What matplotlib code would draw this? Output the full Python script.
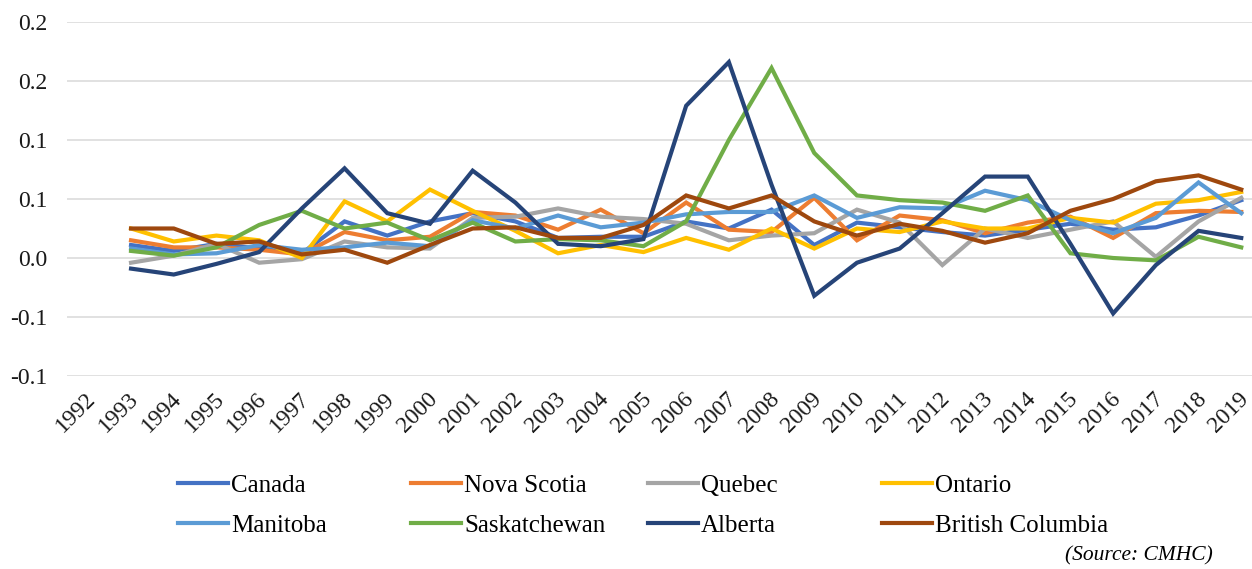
import numpy as np
import matplotlib.pyplot as plt
from matplotlib.transforms import ScaledTranslation

plt.rcParams['font.family'] = ['Liberation Serif', 'DejaVu Serif']

# Data (1992 has no values)
years = [str(y) for y in range(1992, 2020)]

canada = [np.nan, 0.011, 0.006, 0.012, 0.008, 0.004, 0.031, 0.019, 0.031, 0.038,
          0.031, 0.017, 0.018, 0.018, 0.031, 0.025, 0.041, 0.011, 0.030, 0.026,
          0.022, 0.019, 0.024, 0.029, 0.024, 0.026, 0.036, 0.049]
nova_scotia = [np.nan, 0.015, 0.009, 0.009, 0.007, 0.003, 0.022, 0.015, 0.018, 0.039,
               0.036, 0.024, 0.041, 0.021, 0.047, 0.024, 0.022, 0.051, 0.015, 0.036,
               0.032, 0.021, 0.030, 0.035, 0.017, 0.038, 0.040, 0.039]
quebec = [np.nan, -0.004, 0.002, 0.012, -0.004, -0.001, 0.014, 0.009, 0.008, 0.034,
          0.035, 0.042, 0.035, 0.033, 0.029, 0.015, 0.019, 0.021, 0.041, 0.030,
          -0.006, 0.025, 0.017, 0.024, 0.031, 0.001, 0.031, 0.051]
ontario = [np.nan, 0.025, 0.014, 0.019, 0.015, 0.000, 0.048, 0.031, 0.058, 0.040,
           0.023, 0.004, 0.011, 0.005, 0.017, 0.007, 0.025, 0.008, 0.025, 0.022,
           0.031, 0.025, 0.025, 0.034, 0.030, 0.046, 0.049, 0.056]
manitoba = [np.nan, 0.008, 0.003, 0.004, 0.011, 0.007, 0.009, 0.013, 0.010, 0.032,
            0.025, 0.036, 0.026, 0.030, 0.037, 0.039, 0.039, 0.053, 0.034, 0.043,
            0.042, 0.057, 0.049, 0.032, 0.021, 0.034, 0.064, 0.038]
saskatchewan = [np.nan, 0.006, 0.002, 0.009, 0.028, 0.040, 0.025, 0.030, 0.015, 0.030,
                0.014, 0.016, 0.015, 0.010, 0.031, 0.100, 0.161, 0.089, 0.053, 0.049,
                0.047, 0.040, 0.053, 0.004, 0.000, -0.002, 0.018, 0.009]
alberta = [np.nan, -0.009, -0.014, -0.005, 0.005, 0.042, 0.076, 0.038, 0.029, 0.074,
           0.047, 0.012, 0.010, 0.016, 0.129, 0.166, 0.062, -0.032, -0.004, 0.008,
           0.038, 0.069, 0.069, 0.012, -0.047, -0.006, 0.023, 0.017]
british_columbia = [np.nan, 0.025, 0.025, 0.012, 0.014, 0.003, 0.007, -0.004, 0.011, 0.025,
                    0.026, 0.017, 0.017, 0.028, 0.053, 0.042, 0.053, 0.031, 0.019, 0.029,
                    0.023, 0.013, 0.021, 0.040, 0.050, 0.065, 0.070, 0.058]

series = [
    ('Canada', canada, '#4472C4'),
    ('Nova Scotia', nova_scotia, '#ED7D31'),
    ('Quebec', quebec, '#A5A5A5'),
    ('Ontario', ontario, '#FFC000'),
    ('Manitoba', manitoba, '#5B9BD5'),
    ('Saskatchewan', saskatchewan, '#70AD47'),
    ('Alberta', alberta, '#264478'),
    ('British Columbia', british_columbia, '#9E480E'),
]

y_ticks = [-0.1, -0.05, 0.0, 0.05, 0.1, 0.15, 0.2]
y_tick_labels = ['-0.1', '-0.1', '0.0', '0.1', '0.1', '0.2', '0.2']

W, H = 1252, 569
fig = plt.figure(figsize=(W / 100, H / 100), dpi=100)
ax = fig.add_axes([67 / W, 1 - 376 / H, (W - 67) / W, (376 - 22) / H])

x = np.arange(len(years))
handles = []
for name, vals, color in series:
    h, = ax.plot(x, vals, color=color, lw=3, label=name, solid_joinstyle='miter')
    handles.append(h)

ax.set_xlim(-0.5, -0.5 + (W - 67) / 42.7)
ax.set_ylim(-0.1, 0.2)
ax.set_yticks(y_ticks)
ax.set_yticklabels(y_tick_labels)
ax.set_xticks(x)
ax.set_xticklabels(years, rotation=45, ha='right', rotation_mode='anchor')
ax.tick_params(axis='y', length=0, pad=14, labelsize=17, colors='#1a1a1a')
ax.tick_params(axis='x', length=0, pad=9, labelsize=17, colors='#1a1a1a')
# nudge rotated year labels a little left so the last one stays inside
shift = ScaledTranslation(-3 / 100, 0, fig.dpi_scale_trans)
for lbl in ax.get_xticklabels():
    lbl.set_transform(lbl.get_transform() + shift)
ax.grid(axis='y', color='#D9D9D9', lw=1.1)
ax.set_axisbelow(True)
for s in ax.spines.values():
    s.set_visible(False)

# legend: 4 evenly spaced columns, two rows
col_x = [178, 411, 648, 882]
for c in range(4):
    fig.legend([handles[c], handles[c + 4]],
               [series[c][0], series[c + 4][0]],
               loc='upper left', bbox_to_anchor=(col_x[c] / W, 1 - 474 / H),
               frameon=False, fontsize=18, handlelength=2.0, handletextpad=0.12,
               borderpad=0, borderaxespad=0, labelspacing=0.72)

fig.text(1213 / W, 1 - 556 / H, '(Source: CMHC)', ha='right', va='center',
         style='italic', fontsize=15.5)

fig.savefig('out.png', dpi=100)
